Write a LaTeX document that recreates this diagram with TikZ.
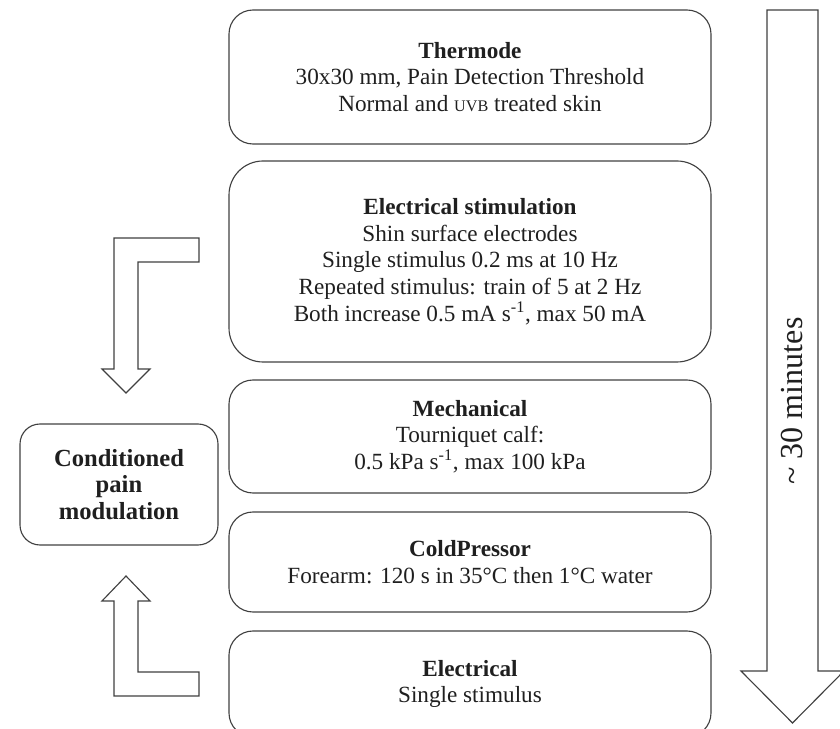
\documentclass[tikz,border=0pt]{standalone}
\usepackage{fontspec}
\setmainfont{Liberation Serif}
\usepackage{tikz}

\begin{document}
\begin{tikzpicture}[
            line width = 0.8pt, % outline of boxes and arrows
            every node/.style = {text=black!88, font=\fontsize{16.5}{19}\selectfont},
            stagebox/.style = {draw=black!75, rounded corners=0.6cm, align=center,
                               minimum width=12.05cm, inner sep=0pt}, % test boxes
            blockarrow/.style = {draw=black!75, fill=white, line join=miter} % hollow arrows
        ]

\useasboundingbox (0,0) rectangle (21,-18.225);
\clip (0,0) rectangle (21,-18.225);

% the tests, top to bottom
\node[stagebox, minimum height=3.35cm] (Thermode) at (11.75,-1.925)
    {\textbf{Thermode}\\30x30 mm, Pain Detection Threshold\\Normal and {\fontsize{11.5}{19}\selectfont UVB} treated skin};
\node[stagebox, minimum height=5.025cm, rounded corners=0.85cm] (ElecStim) at (11.75,-6.5375)
    {\textbf{Electrical stimulation}\\Shin surface electrodes\\Single stimulus 0.2 ms at 10 Hz\\Repeated stimulus: train of 5 at 2 Hz\\Both increase 0.5 mA s\textsuperscript{-1}, max 50 mA};
\node[stagebox, minimum height=2.825cm] (Mech) at (11.75,-10.9125)
    {\textbf{Mechanical}\\Tourniquet calf:\\0.5 kPa s\textsuperscript{-1}, max 100 kPa};
\node[stagebox, minimum height=2.5cm] (Cold) at (11.75,-14.05)
    {\textbf{ColdPressor}\\Forearm: 120 s in 35°C then 1°C water};
\node[stagebox, minimum height=2.65cm] (Elec) at (11.75,-17.1)
    {\textbf{Electrical}\\Single stimulus};

\node[stagebox, minimum width=4.95cm, minimum height=3.025cm, rounded corners=0.5cm,
      font=\bfseries\fontsize{17.5}{18.8}\selectfont] (CPM) at (2.975,-12.1125)
    {Conditioned\\pain\\modulation};

% hollow arrows into the modulation box
\draw[blockarrow] (4.975,-5.95) -- (2.85,-5.95) -- (2.85,-9.225) -- (2.55,-9.225) -- (3.15,-9.825)
    -- (3.75,-9.225) -- (3.45,-9.225) -- (3.45,-6.55) -- (4.975,-6.55) -- cycle;
\draw[blockarrow] (3.15,-14.4) -- (3.75,-15.025) -- (3.45,-15.025) -- (3.45,-16.8) -- (4.975,-16.8)
    -- (4.975,-17.4) -- (2.85,-17.4) -- (2.85,-15.025) -- (2.55,-15.025) -- cycle;

% time line
\draw[blockarrow] (19.175,-0.25) -- (20.45,-0.25) -- (20.45,-16.775) -- (21.1,-16.775)
    -- (19.8125,-18.075) -- (18.525,-16.775) -- (19.175,-16.775) -- cycle;
\node[rotate=90, font=\fontsize{22.8}{26}\selectfont] (Time) at (19.8,-10.025) {\textasciitilde{} 30 minutes};
\end{tikzpicture}
\end{document}
